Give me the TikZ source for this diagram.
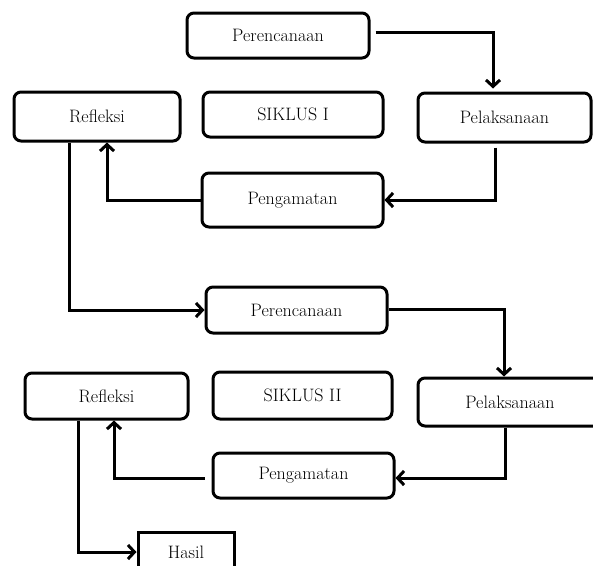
\documentclass[tikz,border=0pt]{standalone}
\usepackage{fontspec}
\usetikzlibrary{arrows.meta}
\tikzset{
  box/.style={draw=black, line width=3pt, rounded corners=7pt, fill=white,
    inner sep=0pt, font=\fontsize{18}{22}\selectfont},
  sqbox/.style={draw=black, line width=3pt, fill=white, inner sep=0pt,
    font=\fontsize{18}{22}\selectfont},
  arr/.style={line width=3pt, -{Straight Barb[length=6.5pt,width=14pt,line width=3pt]}},
}
\begin{document}
\begin{tikzpicture}[x=1pt,y=-1pt]
\useasboundingbox (0,0) rectangle (593,565);
\clip (0,0) rectangle (593,565);
\fill[white] (0,0) rectangle (593,565);
% cycle I
\node[box, minimum width=182pt, minimum height=45pt] (per1) at (278,35.5) {Perencanaan};
\node[box, minimum width=166pt, minimum height=49pt] (ref1) at (97,116.5) {Refleksi};
\node[box, minimum width=180pt, minimum height=45pt] (sik1) at (293,114.5) {SIKLUS I};
\node[box, minimum width=173pt, minimum height=49pt] (pel1) at (504.5,117.5) {Pelaksanaan};
\node[box, minimum width=181pt, minimum height=54pt] (pen1) at (292.5,200) {Pengamatan};
% cycle II
\node[box, minimum width=181pt, minimum height=46pt] (per2) at (296.5,310) {Perencanaan};
\node[box, minimum width=163pt, minimum height=46pt] (ref2) at (106.5,396) {Refleksi};
\node[box, minimum width=179pt, minimum height=47pt] (sik2) at (302.5,395.5) {SIKLUS II};
\node[box, minimum width=184pt, minimum height=48pt] (pel2) at (510,402) {Pelaksanaan};
\node[box, minimum width=181pt, minimum height=45pt] (pen2) at (303.5,475.5) {Pengamatan};
\node[sqbox, minimum width=96pt, minimum height=40pt] (hasil) at (186,552) {Hasil};
% connectors
\draw[arr, shorten <=5pt, shorten >=3pt] ([yshift=3.5pt]per1.east) -| ([xshift=-11.5pt]pel1.north);
\draw[arr, shorten <=4pt] ([xshift=-9.5pt]pel1.south) |- (pen1.east);
\draw[arr] (pen1.west) -| ([xshift=10pt]ref1.south);
\draw[arr] ([xshift=-28pt]ref1.south) |- (per2.west);
\draw[arr] ([yshift=1pt]per2.east) -| ([xshift=-6pt]pel2.north);
\draw[arr] ([xshift=-5pt]pel2.south) |- ([yshift=-2.5pt]pen2.east);
\draw[arr, shorten <=7pt] ([yshift=-2.5pt]pen2.west) -| ([xshift=7.5pt]ref2.south);
\draw[arr] ([xshift=-28.5pt]ref2.south) |- (hasil.west);
\end{tikzpicture}
\end{document}
